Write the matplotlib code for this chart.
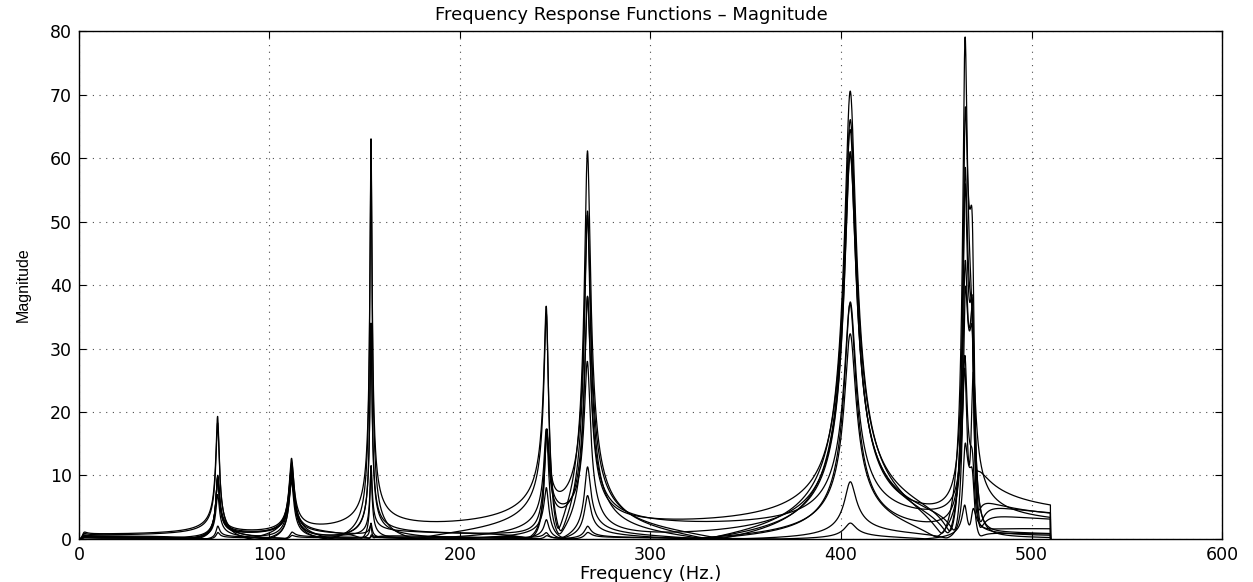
import numpy as np
import matplotlib
matplotlib.use("Agg")
import matplotlib.pyplot as plt

# ---- modal data (accelerance-type FRFs) ----
mode_freqs = [2.5, 72.8, 111.6, 153.3, 245.4, 266.9, 404.8, 465.0, 469.2]   # Hz
mode_damping = [0.40, 0.011, 0.010, 0.0032, 0.0045, 0.0055, 0.0070, 0.0025, 0.0025]

# signed peak magnitude of each mode in each measured FRF
curve_a = [1.0, -19.3, -12.7, -63.0, 35.8, 61.0, 70.5, 79.0, -20.0]
curve_b = [0.8, -18.3, 12.0, -62.0, -35.0, -51.5, -66.0, -66.8, 45.8]
curve_c = [0.6, 10.0, -11.5, 34.0, -17.3, 38.3, -64.5, 58.0, -37.5]
curve_d = [0.5, 9.5, 10.0, 11.5, 16.5, -28.0, 61.0, 38.0, -30.0]
curve_e = [0.4, 9.8, -9.0, 2.5, 8.0, 11.3, 37.3, -30.0, 14.0]
curve_f = [0.3, 7.0, 9.5, -2.0, 3.0, 6.8, 32.3, 25.0, 22.0]
curve_g = [0.3, 2.0, 1.0, 0.5, -1.0, 2.0, 9.0, 15.0, -10.0]
curve_h = [0.2, 1.0, 0.5, 0.3, 0.5, 1.0, 2.5, 5.0, 4.0]
curve_i = [0.2, -9.6, 11.0, 33.0, -17.0, 51.0, 60.5, 58.0, -28.0]
curve_j = [0.2, 9.7, -10.5, 11.0, 17.0, 38.0, -37.0, 45.0, -36.0]

curves = [curve_a, curve_b, curve_c, curve_d, curve_e,
          curve_f, curve_g, curve_h, curve_i, curve_j]

f_step = 0.1
f_end = 510.0

title_text = "Frequency Response Functions \u2013 Magnitude"
x_label = "Frequency (Hz.)"
y_label = "Magnitude"
x_ticks = [0, 100, 200, 300, 400, 500, 600]
y_ticks = [0, 10, 20, 30, 40, 50, 60, 70, 80]

freq = np.arange(0.0, f_end + f_step / 2, f_step)


def frf_magnitude(peaks):
    h = np.zeros_like(freq, dtype=complex)
    for fm, z, p in zip(mode_freqs, mode_damping, peaks):
        h += p * 1j * 2 * z * freq ** 2 / (fm ** 2 - freq ** 2 + 2j * z * fm * freq)
    mag = np.abs(h)
    mag[-1] = 0.0  # measurement stops at the last bin
    return mag


plt.rcParams['font.family'] = ['DejaVu Sans']
fig = plt.figure(figsize=(12.53, 5.82), dpi=100)
ax = fig.add_axes([0.0630, 0.0739, 0.9123, 0.8728])

for c in curves:
    ax.plot(freq, frf_magnitude(c), color='black', lw=0.9)

ax.set_xlim(0, 600)
ax.set_ylim(0, 80)
ax.set_xticks(x_ticks)
ax.set_yticks(y_ticks)
ax.tick_params(direction='in', top=True, right=True, length=5, width=0.8,
               labelsize=12.5, pad=5)
ax.grid(True, linestyle=(0, (1, 5)), color='black', lw=0.8, alpha=0.7)
for s in ax.spines.values():
    s.set_linewidth(1.0)
ax.set_title(title_text, fontsize=13, pad=8, x=0.483)
ax.set_xlabel(x_label, fontsize=13, labelpad=1)
ax.set_ylabel(y_label, fontsize=11.5, labelpad=14,
              fontfamily=['Liberation Sans Narrow', 'Liberation Sans'])

fig.savefig("out.png", dpi=100)
